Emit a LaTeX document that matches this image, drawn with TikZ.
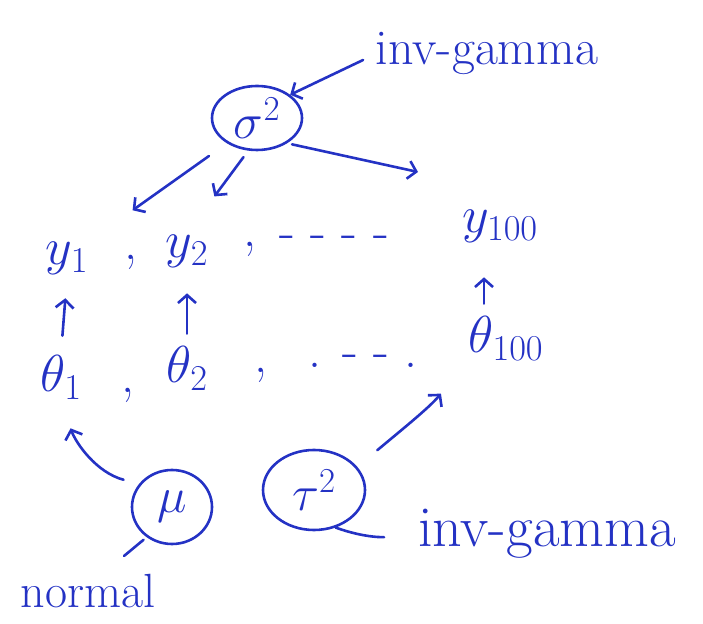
\documentclass[tikz,border=0pt]{standalone}
\usepackage{fix-cm}
\usetikzlibrary{shapes.geometric,arrows.meta}
\definecolor{ink}{RGB}{36,50,196}
\tikzstyle{rv}=[shape=ellipse, draw=ink, line width=2.6pt, inner sep=0, text=ink, font=\fontsize{50}{54}\selectfont]
\tikzstyle{sym}=[anchor=base, inner sep=2pt, text=ink, font=\fontsize{52}{56}\selectfont]
\tikzstyle{lbl}=[anchor=base, inner sep=0, text=ink, font=\fontsize{50}{54}\selectfont]
\tikzstyle{arr}=[ink, line width=2.6pt, line cap=round, -{Straight Barb[length=8pt,width=18pt]}]
\tikzstyle{lead}=[ink, line width=2.6pt, line cap=round]

\begin{document}
\begin{tikzpicture}[x=1pt, y=1pt]
\useasboundingbox (0,0) rectangle (703,623);
% hyperparameters
\node at (257,505)[rv, minimum width=90pt, minimum height=64pt](sig){$\sigma^2$};
\node at (172,116)[rv, minimum width=80pt, minimum height=74pt](mu){$\mu$};
\node at (314,133)[rv, minimum width=102pt, minimum height=80pt](tau){$\tau^2$};
% priors
\node at (487,558)[lbl](igtop){inv-gamma};
\node at (547,76)[lbl, font=\fontsize{58}{62}\selectfont](igbot){inv-gamma};
\node at (88,16)[lbl, font=\fontsize{48}{52}\selectfont](nrm){normal};
% data
\node at (67,358)[sym](y1){$y_1$};
\node at (131,363)[sym](cy1){,};
\node at (187,365)[sym](y2){$y_2$};
\node at (250,376)[sym](cy2){,};
\node at (334,374)[sym](ydots){- - - -};
\node at (500,390)[sym](y100){$y_{100}$};
% means
\node at (61,231)[sym](t1){$\theta_1$};
\node at (128,230)[sym](ct1){,};
\node at (187,240)[sym](t2){$\theta_2$};
\node at (261,250)[sym](ct2){,};
\node at (363,255)[sym](tdots){. - - .};
\node at (506,270)[sym](t100){$\theta_{100}$};
\coordinate (s3end) at (418,451);
\coordinate (ntip) at (124,67);
\draw[arr, shorten <=22pt, shorten >=52pt] (sig.220)--(y1.north east);
\draw[arr, shorten <=8pt, shorten >=46pt] (sig.255)--(y2.north);
\draw[arr, shorten <=5pt] (sig.-40)--(s3end);
\draw[arr, shorten <=18pt, shorten >=21pt] (t1.north)--(y1.south);
\draw[arr, shorten <=11pt, shorten >=23pt] (t2.north)--(y2.south);
\draw[arr, shorten <=11pt, shorten >=32pt] ([xshift=-22pt]t100.north)--([xshift=-16pt]y100.south);
\draw[arr, shorten <=16pt, shorten >=28pt] (mu.145) to[out=165,in=-70] (t1.south);
\draw[arr, shorten <=26pt, shorten >=40pt] (tau.28) to[out=40,in=-130] (t100.south west);
\draw[arr, shorten <=14pt] (igtop.west)--(sig.35);
\draw[lead, shorten >=34pt] (tau.-60) to[out=-20,in=185] (igbot.west);
\draw[lead, shorten <=4pt] (mu.230)--(ntip);
\end{tikzpicture}
\end{document}
